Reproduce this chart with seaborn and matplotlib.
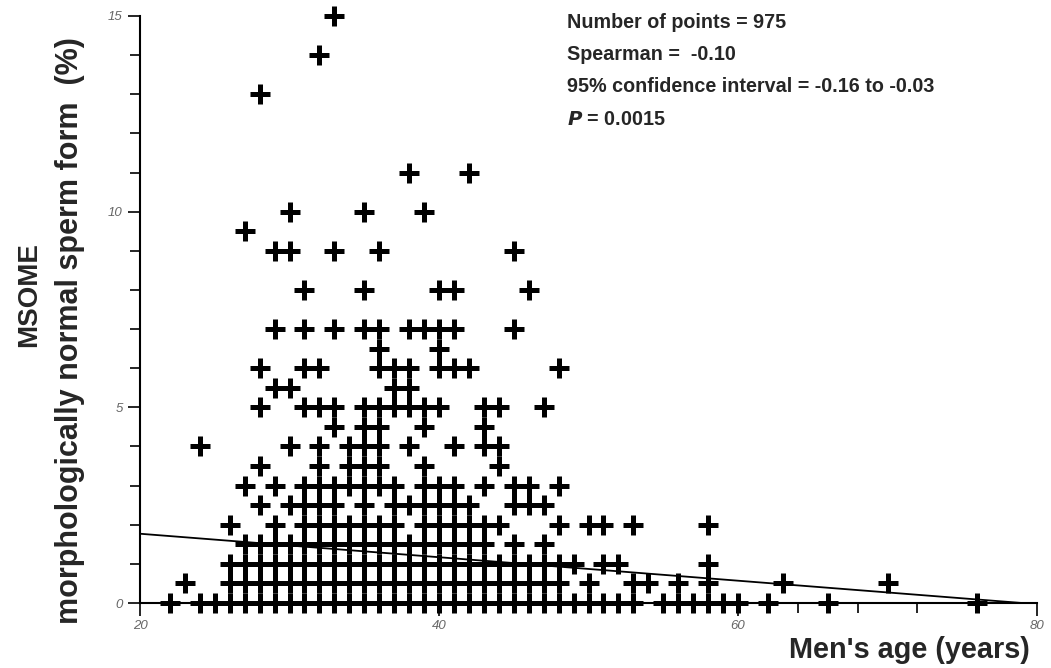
import matplotlib
matplotlib.use("Agg")
import matplotlib.pyplot as plt
import seaborn as sns
import pandas as pd
from matplotlib.ticker import MultipleLocator, FixedLocator

# Ages (years) at which a cross appears, grouped by MSOME value (%)
ages_at_0_0 = [22, 24, 25, 26, 27, 28, 29, 30, 31, 32, 33, 34, 35, 36, 37, 38, 39,
               40, 41, 42, 43, 44, 45, 46, 47, 48, 49, 50, 51, 52, 53,
               55, 56, 57, 58, 59, 60, 62, 66, 76]
ages_at_0_5 = [23, 26, 27, 28, 29, 30, 31, 32, 33, 34, 35, 36, 37, 38, 39, 40, 41,
               42, 43, 44, 45, 46, 47, 48, 50, 53, 54, 56, 58, 63, 70]
ages_at_1_0 = [26, 27, 28, 29, 30, 31, 32, 33, 34, 35, 36, 37, 38, 39, 40, 41, 42,
               43, 44, 45, 46, 47, 48, 49, 51, 52, 58]
ages_at_1_5 = [27, 28, 29, 30, 31, 32, 33, 34, 35, 36, 37, 38, 39, 40, 41, 42, 43,
               45, 47]
ages_at_2_0 = [26, 29, 31, 32, 33, 34, 35, 36, 37, 39, 40, 41, 42, 43, 44, 48, 50,
               51, 53, 58]
ages_at_2_5 = [28, 30, 31, 32, 33, 35, 37, 38, 39, 40, 41, 42, 45, 46, 47]
ages_at_3_0 = [27, 29, 31, 32, 33, 34, 35, 36, 37, 39, 40, 41, 43, 45, 46, 48]
ages_at_3_5 = [28, 32, 34, 35, 36, 39, 44]
ages_at_4_0 = [24, 30, 32, 34, 35, 36, 38, 41, 43, 44]
ages_at_4_5 = [33, 35, 36, 39, 43]
ages_at_5_0 = [28, 31, 32, 33, 35, 36, 37, 38, 39, 40, 43, 44, 47]
ages_at_5_5 = [29, 30, 37, 38]
ages_at_6_0 = [28, 31, 32, 36, 37, 38, 40, 41, 42, 48]
ages_at_6_5 = [36, 40]
ages_at_7_0 = [29, 31, 33, 35, 36, 38, 39, 40, 41, 45]
ages_at_8_0 = [31, 35, 40, 41, 46]
ages_at_9_0 = [29, 30, 33, 36, 45]
ages_at_9_5 = [27]
ages_at_10_0 = [30, 35, 39]
ages_at_11_0 = [38, 42]
ages_at_13_0 = [28]
ages_at_14_0 = [32]
ages_at_15_0 = [33]

msome_values = [0.0, 0.5, 1.0, 1.5, 2.0, 2.5, 3.0, 3.5, 4.0, 4.5, 5.0, 5.5, 6.0,
                6.5, 7.0, 8.0, 9.0, 9.5, 10.0, 11.0, 13.0, 14.0, 15.0]
age_groups = [ages_at_0_0, ages_at_0_5, ages_at_1_0, ages_at_1_5, ages_at_2_0,
              ages_at_2_5, ages_at_3_0, ages_at_3_5, ages_at_4_0, ages_at_4_5,
              ages_at_5_0, ages_at_5_5, ages_at_6_0, ages_at_6_5, ages_at_7_0,
              ages_at_8_0, ages_at_9_0, ages_at_9_5, ages_at_10_0, ages_at_11_0,
              ages_at_13_0, ages_at_14_0, ages_at_15_0]

# Fitted trend line end points
trend_age = [20, 79]
trend_msome = [1.77, 0.0]

stats_lines = ["Number of points = 975",
               "Spearman =  -0.10",
               "95% confidence interval = -0.16 to -0.03"]
p_value_text = "0.0015"

x_ticks = [20, 40, 60, 80]
y_ticks = [0, 5, 10, 15]

rows = []
for val, ages in zip(msome_values, age_groups):
    for a in ages:
        rows.append({"age": a, "msome": val})
df = pd.DataFrame(rows)

sns.set_style("ticks")
plt.rcParams["font.family"] = ["Liberation Sans", "DejaVu Sans"]

fig = plt.figure(figsize=(10.51, 6.68), dpi=100)
ax = fig.add_axes([140 / 1051, 65 / 668, 897 / 1051, 587 / 668])

sns.scatterplot(data=df, x="age", y="msome", marker="+", s=215, linewidth=3.6,
                color="black", ax=ax, clip_on=False, zorder=3)
ax.plot(trend_age, trend_msome, color="black", lw=1.3, zorder=2)

ax.set_xlim(20, 80)
ax.set_ylim(0, 15)
ax.xaxis.set_major_locator(FixedLocator(x_ticks))
ax.xaxis.set_minor_locator(MultipleLocator(4))
ax.yaxis.set_major_locator(FixedLocator(y_ticks))
ax.yaxis.set_minor_locator(MultipleLocator(1))
ax.tick_params(which="both", direction="out", width=1.2, color="black",
               labelsize=9.5, labelcolor="#666666")
ax.tick_params(which="major", length=9)
ax.tick_params(which="minor", length=7)
for lab in ax.get_xticklabels() + ax.get_yticklabels():
    lab.set_fontstyle("italic")

sns.despine(ax=ax)
for side in ("left", "bottom"):
    ax.spines[side].set_linewidth(1.5)
    ax.spines[side].set_color("black")

ax.set_xlabel("")
ax.set_ylabel("")

fig.text(1030 / 1051, 1 - 650 / 668, "Men's age (years)", ha="right",
         va="center", fontsize=20.8, fontweight="bold")
fig.text(29 / 1051, 1 - 295 / 668, "MSOME", rotation=90, ha="center",
         va="center", fontsize=20, fontweight="bold")
fig.text(70 / 1051, 1 - 331 / 668, "morphologically normal sperm form  (%)",
         rotation=90, ha="center", va="center", fontsize=22, fontweight="bold")

for i, line in enumerate(stats_lines):
    fig.text(567 / 1051, 1 - (22 + 32.5 * i) / 668, line, ha="left",
             va="center", fontsize=14.2, fontweight="bold")
fig.text(567 / 1051, 1 - (22 + 32.5 * 3) / 668,
         r"$\mathbfit{P}$" + " = " + p_value_text, ha="left", va="center",
         fontsize=14.2, fontweight="bold")

fig.savefig("out.png", dpi=100, facecolor="white")
